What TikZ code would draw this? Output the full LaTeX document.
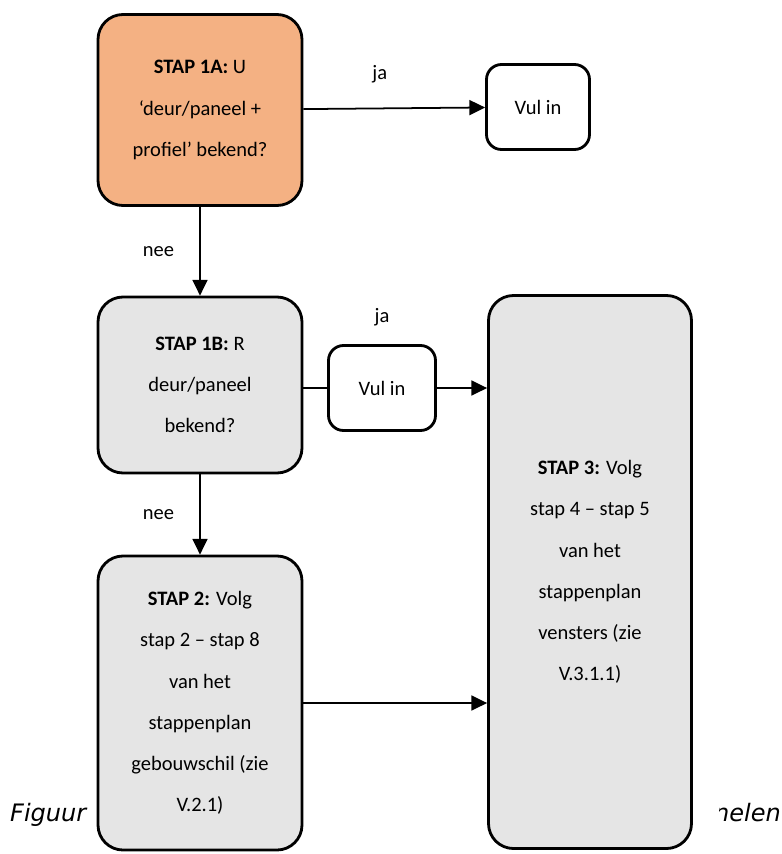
\documentclass[tikz,border=0pt]{standalone}
\usepackage{fontspec}
\setmainfont{Carlito}
\newfontfamily\captionfont{DejaVu Sans}
\usetikzlibrary{arrows.meta, positioning}

\definecolor{staporange}{RGB}{244,177,131}
\definecolor{stapgray}{RGB}{229,229,229}

\begin{document}
\begin{tikzpicture}[
    x=0.03cm, y=-0.03cm,
    box/.style={
        rectangle, draw, line width=2.4pt, rounded corners=0.75cm,
        minimum width=6.12cm, align=center,
        font=\fontsize{17.5}{35.2}\selectfont
    },
    fillbox/.style={
        rectangle, draw, line width=2.4pt, rounded corners=0.45cm,
        minimum height=2.55cm, align=center, fill=white
    },
    answer/.style={inner sep=0pt},
    >={Triangle[length=0.47cm, width=0.45cm]},
    every node/.style={font=\fontsize{17.5}{21}\selectfont}
]

\useasboundingbox (0,0) rectangle (782,854);

\node[anchor=base west, inner sep=0pt, font=\captionfont\itshape\fontsize{20.5}{24}\selectfont]
    (figleft) at (10,821) {Figuur};
\begin{scope}
    \clip (719,780) rectangle (782,840);
    \node[anchor=base east, inner sep=0pt, font=\captionfont\itshape\fontsize{20.5}{24}\selectfont]
        (figright) at (781,821) {nelen};
\end{scope}

\node[box, fill=staporange, minimum height=5.73cm] (stap1a) at (200,110)
    {\textbf{STAP 1A:} U\\‘deur/paneel +\\profiel’ bekend?};
\node[fillbox, minimum width=3.09cm] (vul1) at (538,107) {Vul in};
\node[box, fill=stapgray, minimum height=5.28cm] (stap1b) at (200,385)
    {\textbf{STAP 1B:} R\\deur/paneel\\bekend?};
\node[fillbox, minimum width=3.21cm] (vul2) at (382,388) {Vul in};
\node[box, fill=stapgray, minimum height=8.82cm] (stap2) at (200,703)
    {\textbf{STAP 2:} Volg\\stap 2 – stap 8\\van het\\stappenplan\\gebouwschil (zie\\V.2.1)};
\node[box, fill=stapgray, minimum width=6.09cm, minimum height=16.59cm] (stap3) at (590,572)
    {\textbf{STAP 3:} Volg\\stap 4 – stap 5\\van het\\stappenplan\\vensters (zie\\V.3.1.1)};

\draw[->, line width=1.5pt] (stap1a) -- node[answer, pos=0.42, above=0.75cm] {ja} (vul1);
\draw[->, line width=1.5pt] (stap1a) -- node[answer, left=0.75cm] {nee} (stap1b);
\draw[line width=1.5pt] (stap1b.east |- vul2.west) -- (vul2.west);
\draw[->, line width=1.5pt] (vul2.east) -- (vul2.east -| stap3.west);
\node[answer, above=0.55cm of vul2] (ja2) {ja};
\draw[->, line width=1.5pt] (stap1b) -- node[answer, left=0.75cm] {nee} (stap2);
\draw[->, line width=1.5pt] (stap2.east) -- (stap2.east -| stap3.west);

\end{tikzpicture}
\end{document}
